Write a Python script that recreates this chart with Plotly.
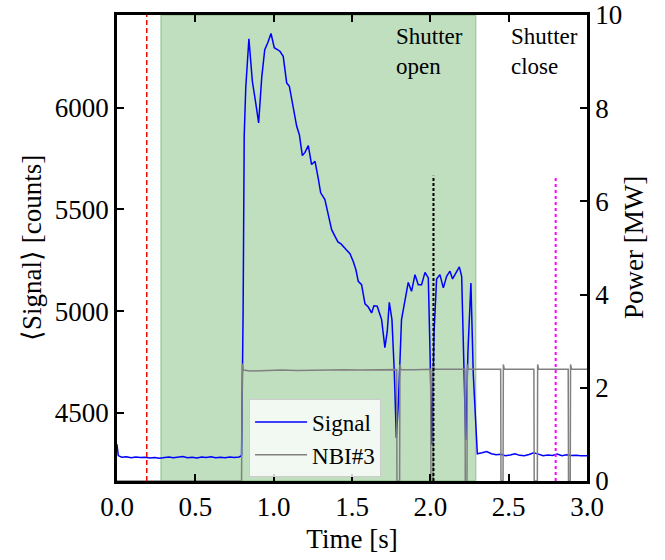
import plotly.graph_objects as go

# ---------------- data ----------------
sig_t = [0.000, 0.008, 0.03, 0.06, 0.09, 0.12, 0.15, 0.18, 0.21, 0.24, 0.27, 0.30,
         0.33, 0.36, 0.39, 0.42, 0.45, 0.48, 0.51, 0.54, 0.57, 0.60, 0.63, 0.66,
         0.69, 0.72, 0.75, 0.78, 0.795, 0.805, 0.812, 0.822, 0.842, 0.852, 0.864,
         0.884, 0.904, 0.924, 0.943, 0.963, 0.983, 1.004, 1.020, 1.040, 1.061,
         1.072, 1.083, 1.100, 1.125, 1.147, 1.164, 1.183, 1.200, 1.221, 1.242,
         1.264, 1.285, 1.300, 1.327, 1.35, 1.37, 1.39, 1.41, 1.43, 1.45, 1.465,
         1.487, 1.508, 1.525, 1.540, 1.561, 1.583, 1.604, 1.625, 1.640, 1.661,
         1.689, 1.71, 1.725, 1.738, 1.755, 1.770, 1.783, 1.796, 1.816, 1.838,
         1.859, 1.880, 1.902, 1.923, 1.944, 1.966, 1.987, 1.998, 2.010, 2.024,
         2.040, 2.061, 2.083, 2.104, 2.125, 2.142, 2.164, 2.185, 2.200, 2.212,
         2.226, 2.240, 2.259, 2.274, 2.300, 2.33, 2.36, 2.39, 2.42, 2.45, 2.48,
         2.51, 2.54, 2.57, 2.60, 2.63, 2.66, 2.69, 2.72, 2.75, 2.78, 2.81, 2.84,
         2.87, 2.90, 2.93, 2.96, 3.00]
sig_v = [4345, 4290, 4282, 4284, 4279, 4283, 4280, 4282, 4278, 4281, 4277, 4280,
         4283, 4279, 4281, 4285, 4279, 4282, 4278, 4283, 4280, 4284, 4279, 4282,
         4279, 4283, 4280, 4283, 4290, 5000, 5860, 6100, 6338, 6230, 6129,
         6030, 5925, 6150, 6285, 6320, 6364, 6294, 6285, 6277, 6252,
         6180, 6121, 6105, 6000, 5908, 5867, 5764, 5780, 5813, 5720,
         5736, 5650, 5581, 5548, 5460, 5400, 5370, 5340, 5330, 5310, 5300,
         5282, 5244, 5203, 5146, 5130, 5036, 5020, 4991, 5026, 5024,
         4958, 4820, 4900, 5043, 4958, 4700, 4377, 4550, 4958, 5060,
         5141, 5097, 5179, 5130, 5130, 5190, 5163, 4800, 4343, 4900,
         5158, 5179, 5114, 5171, 5196, 5158, 5187, 5217, 5171, 4800,
         4367, 4800, 5138, 4692, 4299, 4304, 4310, 4299, 4294, 4296, 4289,
         4293, 4299, 4291, 4289, 4295, 4304, 4297, 4289, 4293, 4290, 4298, 4289,
         4294, 4290, 4292, 4289, 4289]

nbi_t = [0.0, 0.795, 0.800, 0.806, 0.85, 0.95, 1.05, 1.15, 1.25, 1.35, 1.45, 1.55,
         1.65, 1.75, 1.785, 1.787, 1.804, 1.806, 1.812, 1.9, 2.002, 2.004, 2.017,
         2.019, 2.025, 2.1, 2.221, 2.223, 2.234, 2.236, 2.242, 2.35, 2.449, 2.451,
         2.464, 2.466, 2.472, 2.56, 2.661, 2.663, 2.683, 2.685, 2.691, 2.78, 2.880,
         2.882, 2.893, 2.895, 2.901, 3.0]
nbi_p = [0.0, 0.0, 2.52, 2.38, 2.36, 2.37, 2.38, 2.37, 2.38, 2.38, 2.39, 2.38,
         2.39, 2.39, 2.39, 0.0, 0.0, 2.50, 2.39, 2.39, 2.40, 0.0, 0.0,
         2.50, 2.40, 2.40, 2.40, 0.0, 0.0, 2.50, 2.40, 2.40, 2.40, 0.0,
         0.0, 2.50, 2.40, 2.40, 2.40, 0.0, 0.0, 2.50, 2.40, 2.40, 2.40,
         0.0, 0.0, 2.50, 2.40, 2.40]

shutter_span = [0.28, 2.29]          # green band (shutter open)
event_t = [0.19, 2.02, 2.80]         # red dashed, black dotted, magenta dotted
event_top = 6.55                     # top of the two dotted markers [MW]
x_ticks = [0.0, 0.5, 1.0, 1.5, 2.0, 2.5, 3.0]
y_ticks = [4500, 5000, 5500, 6000]
y2_ticks = [0, 2, 4, 6, 8, 10]

FONT = "Liberation Serif"

fig = go.Figure()
fig.add_trace(go.Scatter(x=sig_t, y=sig_v, mode="lines", name="Signal",
                         line=dict(color="blue", width=1.5)))
fig.add_trace(go.Scatter(x=nbi_t, y=nbi_p, mode="lines", name="NBI#3", yaxis="y2",
                         line=dict(color="gray", width=1.5)))

# shutter-open band
fig.add_shape(type="rect", xref="x", yref="paper", x0=shutter_span[0], x1=shutter_span[1],
              y0=0, y1=1, fillcolor="rgba(0,128,0,0.25)",
              line=dict(color="rgba(0,128,0,0.25)", width=1.5), layer="below")
# vertical markers
fig.add_shape(type="line", xref="x", yref="paper", x0=event_t[0], x1=event_t[0], y0=0, y1=1,
              line=dict(color="red", width=1.5, dash="5px,3px"), layer="above")
fig.add_shape(type="line", xref="x", yref="y2", x0=event_t[1], x1=event_t[1], y0=0, y1=event_top,
              line=dict(color="black", width=2, dash="3px,2px"), layer="above")
fig.add_shape(type="line", xref="x", yref="y2", x0=event_t[2], x1=event_t[2], y0=0, y1=event_top,
              line=dict(color="#ff00ff", width=2, dash="3px,3px"), layer="above")

ann_font = dict(family=FONT, size=23, color="black")
for txt, xx in [("Shutter<br>open", 1.77), ("Shutter<br>close", 2.50)]:
    fig.add_annotation(x=xx, y=1.0, xref="x", yref="paper", text=txt, showarrow=False,
                       xanchor="left", yanchor="top", align="left", yshift=-7,
                       font=ann_font)

# right axis title
fig.add_annotation(x=1.0, y=0.5, xref="paper", yref="paper", text="Power [MW]",
                   textangle=-90, showarrow=False, xanchor="center", yanchor="middle",
                   xshift=47, font=dict(family=FONT, size=27, color="black"))

axis_common = dict(ticks="inside", ticklen=7, tickwidth=2, tickcolor="black",
                   showline=True, linecolor="black", linewidth=2.5,
                   showgrid=False, zeroline=False, automargin=False,
                   ticklabeloverflow="allow",
                   tickfont=dict(family=FONT, size=27, color="black"))

fig.update_layout(
    width=665, height=560,
    margin=dict(l=117, r=78, t=15, b=79),
    paper_bgcolor="white", plot_bgcolor="white",
    font=dict(family=FONT, size=27, color="black"),
    showlegend=True,
    legend=dict(x=0.281, y=0.175, xanchor="left", yanchor="top",
                bgcolor="rgba(255,255,255,0.8)", bordercolor="rgb(204,204,204)",
                borderwidth=1, font=dict(family=FONT, size=23, color="black"),
                itemwidth=52, tracegroupgap=0),
    xaxis=dict(range=[0, 3], tickvals=x_ticks, tickformat=".1f", mirror="ticks",
               title=dict(text="Time [s]", font=dict(family=FONT, size=27), standoff=8),
               **axis_common),
    yaxis=dict(range=[4165, 6455], tickvals=y_ticks, mirror=False,
               title=dict(text="⟨Signal⟩ [counts]", font=dict(family=FONT, size=27), standoff=6),
               **axis_common),
    yaxis2=dict(range=[0, 10], tickvals=y2_ticks, overlaying="y", side="right",
                **axis_common),
)

fig.write_html("out.html")
